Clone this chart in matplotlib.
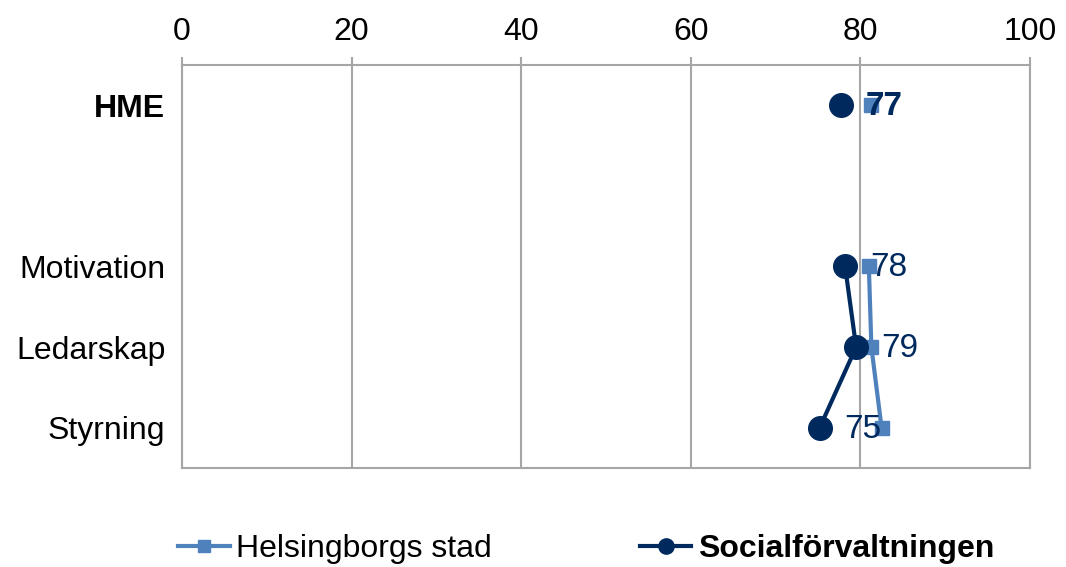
import numpy as np
import matplotlib
matplotlib.use('Agg')
import matplotlib.pyplot as plt
from matplotlib.lines import Line2D

plt.rcParams['font.family'] = ['Liberation Sans', 'DejaVu Sans']

# data
categories = ['HME', '', 'Motivation', 'Ledarskap', 'Styrning']
helsingborg = [81.3, np.nan, 81.0, 81.3, 82.5]
social = [77.7, np.nan, 78.2, 79.5, 75.2]
social_labels = ['77', '', '78', '79', '75']
xticks = [0, 20, 40, 60, 80, 100]

light = '#4F81BD'
navy = '#002A5E'
grey = '#A6A6A6'
fs = 23

fig = plt.figure(figsize=(10.66, 5.67), dpi=100)
ax = fig.add_axes([0.1707, 0.1746, 0.7955, 0.7108])

y = np.arange(len(categories))

ax.plot(helsingborg, y, color=light, lw=3, marker='s', ms=10, zorder=3)
ax.plot(social, y, color=navy, lw=3, marker='o', ms=17, zorder=4)

# dataetiketter
for i, (v, t) in enumerate(zip(social, social_labels)):
    if t == '':
        continue
    ax.annotate(t, (v, i), xytext=(18, -1), textcoords='offset points',
                ha='left', va='center', fontsize=fs + 1, color=navy,
                fontweight='bold' if i == 0 else 'normal', zorder=5)

ax.set_xlim(0, 100)
ax.set_ylim(len(categories) - 0.5, -0.5)
ax.set_xticks(xticks)
ax.xaxis.tick_top()
ax.tick_params(axis='x', labelsize=fs, length=6, width=1.5, color=grey, pad=7)
ax.set_yticks(y)
ax.set_yticklabels(categories)
ax.tick_params(axis='y', labelsize=fs, length=0, pad=12)
ax.get_yticklabels()[0].set_fontweight('bold')

ax.grid(axis='x', color=grey, lw=1.5)
ax.set_axisbelow(True)
for s in ax.spines.values():
    s.set_color(grey)
    s.set_linewidth(1.5)

handles = [Line2D([], [], color=light, lw=3, marker='s', ms=9),
           Line2D([], [], color=navy, lw=3, marker='o', ms=11)]
leg = fig.legend(handles, ['Helsingborgs stad', 'Socialförvaltningen'],
                 loc='lower center', bbox_to_anchor=(0.55, -0.045), ncol=2, frameon=False,
                 fontsize=fs, handlelength=1.6, handletextpad=0.2, columnspacing=4.65)
leg.get_texts()[1].set_fontweight('bold')

fig.savefig('out.png', dpi=100)
